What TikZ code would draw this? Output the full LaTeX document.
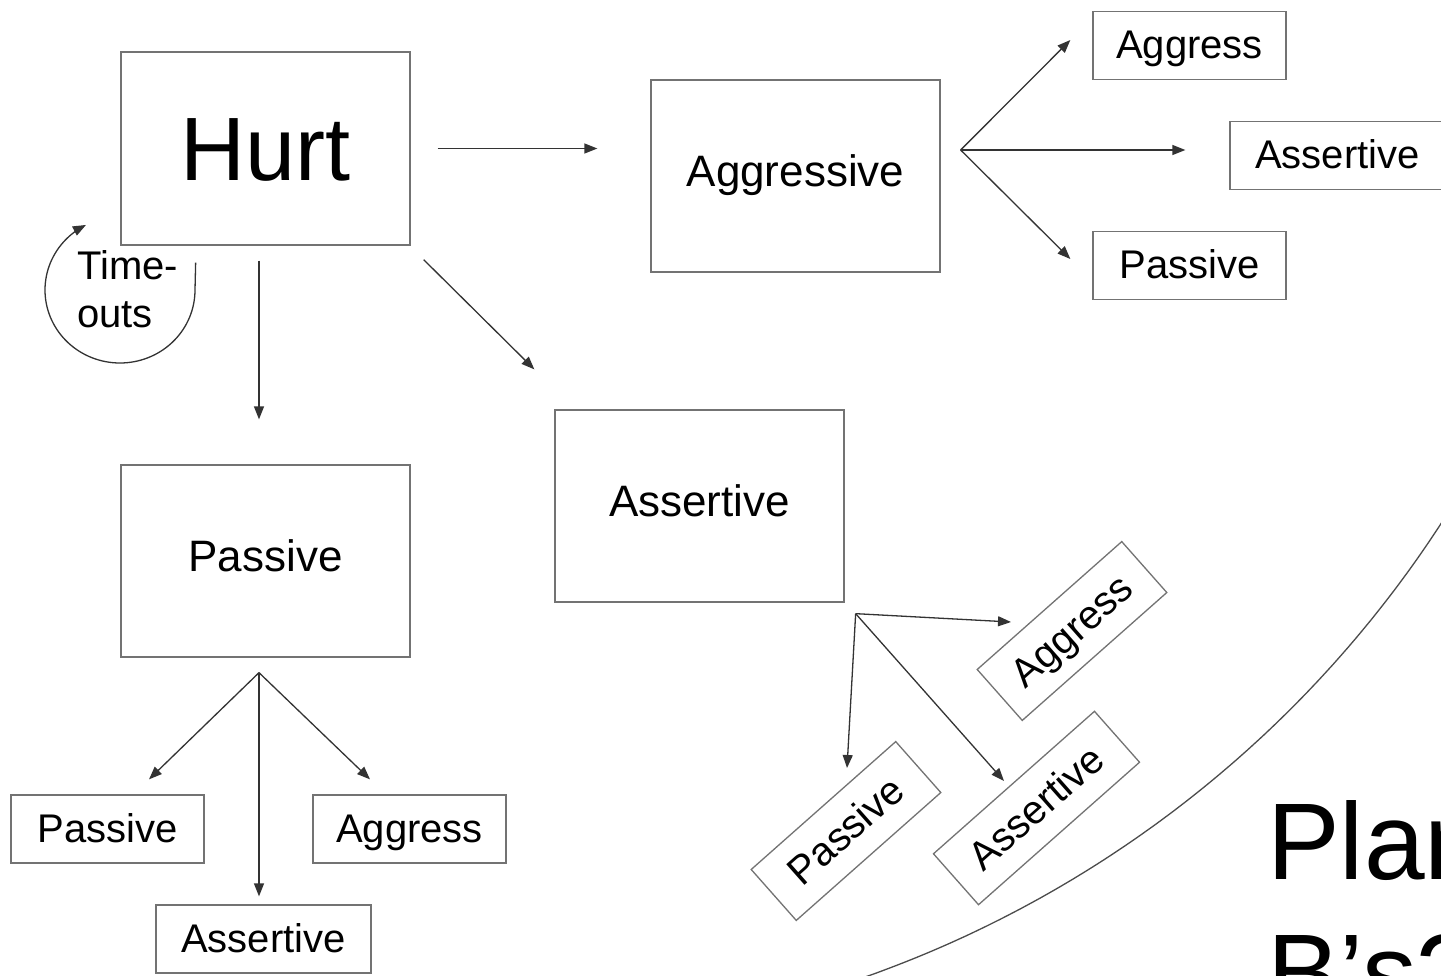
\documentclass[tikz,border=0pt]{standalone}
\usepackage{fontspec}
\setmainfont{Liberation Sans}
\usetikzlibrary{arrows.meta,calc}
\begin{document}
\begin{tikzpicture}[x=1pt,y=-1pt,
  box/.style={draw=black!55, line width=1.3pt, inner sep=0pt, minimum width=289pt, minimum height=192pt, font=\fontsize{44}{53}\selectfont, text height=31.5pt, text depth=10pt},
  sbox/.style={draw=black!55, line width=1.3pt, inner sep=0pt, minimum width=193pt, minimum height=68pt, font=\fontsize{40}{48}\selectfont, text height=28.6pt, text depth=2pt},
  wbox/.style={sbox, minimum width=215pt},
  arr/.style={draw=black!80, line width=1.3pt, -{Triangle[length=13pt,width=10pt]}},
  curve/.style={draw=black!70, line width=1.3pt},
  plain/.style={inner sep=0pt, align=left, anchor=north west},
]
\useasboundingbox (0,0) rectangle (1441,975);
\fill[white] (0,0) rectangle (1441,975);
\clip (0,0) rectangle (1441,975);

% main boxes
\node[box, minimum height=193pt, font=\fontsize{90}{108}\selectfont, text height=64.4pt, text depth=0pt] (hurt) at (265.5,148.5) {Hurt};
\node[box] (aggr) at (795.5,176) {Aggressive};
\node[box] (asrt) at (699.5,506) {Assertive};
\node[box] (pass) at (265.5,561) {Passive};

% small boxes
\node[sbox] (aggA) at (1189.5,45.5) {Aggress};
\node[wbox] (assA) at (1337.5,155.5) {Assertive};
\node[sbox] (pasA) at (1189.5,265.5) {Passive};
\node[sbox] (pasB) at (107.5,829) {Passive};
\node[sbox] (aggB) at (409.5,829) {Aggress};
\node[wbox] (assB) at (263.5,939) {Assertive};
\node[sbox, rotate=41.5] (aggR) at (1072,631) {Aggress};
\node[wbox, rotate=41.5] (assR) at (1036.5,808) {Assertive};
\node[sbox, rotate=41.5] (pasR) at (846,831) {Passive};

% texts
\node[plain, font=\fontsize{40}{48}\selectfont] (tout) at (77,250) {Time-\\outs};
\node[plain, font=\fontsize{109}{131}\selectfont] (plan) at (1267,800) {Plan\\B’s?};

% arrows from Hurt
\draw[arr] ([shift={(27,0)}]hurt.east) -- ([shift={(-53,0)}]hurt.east -| aggr.west);
\draw[arr] ([shift={(-6.5,15)}]hurt.south) -- ([shift={(-6.5,-45)}]pass.north);
\draw[arr] ([shift={(13,14)}]hurt.south east) -- ([shift={(-20,-40)}]asrt.north west);

% time-out loop
\draw[arr] ([shift={(-215,17)}]hurt.south east) -- plot[domain=0:243, samples=90] ({120+75*cos(\x)},{290+73*sin(\x)});

% fan from Aggressive
\coordinate (fA) at ($(aggr.east)+(20,-26)$);
\draw[arr] (fA) -- ($(aggA.west)+(-22,-5.5)$);
\draw[arr] (fA) -- ($(fA -| assA.west)+(-44,0)$);
\draw[arr] (fA) -- ($(pasA.west)+(-22,-6.5)$);

% fan from Assertive
\coordinate (fS) at ($(asrt.south east)+(11,11)$);
\draw[arr] (fS) -- ($(aggR.center)+(-61,-9)$);
\draw[arr] (fS) -- ($(pasR.center)+(1,-63)$);
\draw[arr] (fS) -- ($(assR.center)+(-32.5,-27)$);

% fan from Passive
\coordinate (fP) at ($(pass.south)+(-6.5,15)$);
\draw[arr] (fP) -- ($(pasB.north)+(41.5,-15)$);
\draw[arr] (fP) -- ($(assB.north)+(-4.5,-8)$);
\draw[arr] (fP) -- ($(aggB.north)+(-39.5,-15)$);

% big arc
\draw[curve] plot[domain=28:73, samples=120] ({486+1139*cos(\x)},{-97+1139*sin(\x)});
\end{tikzpicture}
\end{document}
